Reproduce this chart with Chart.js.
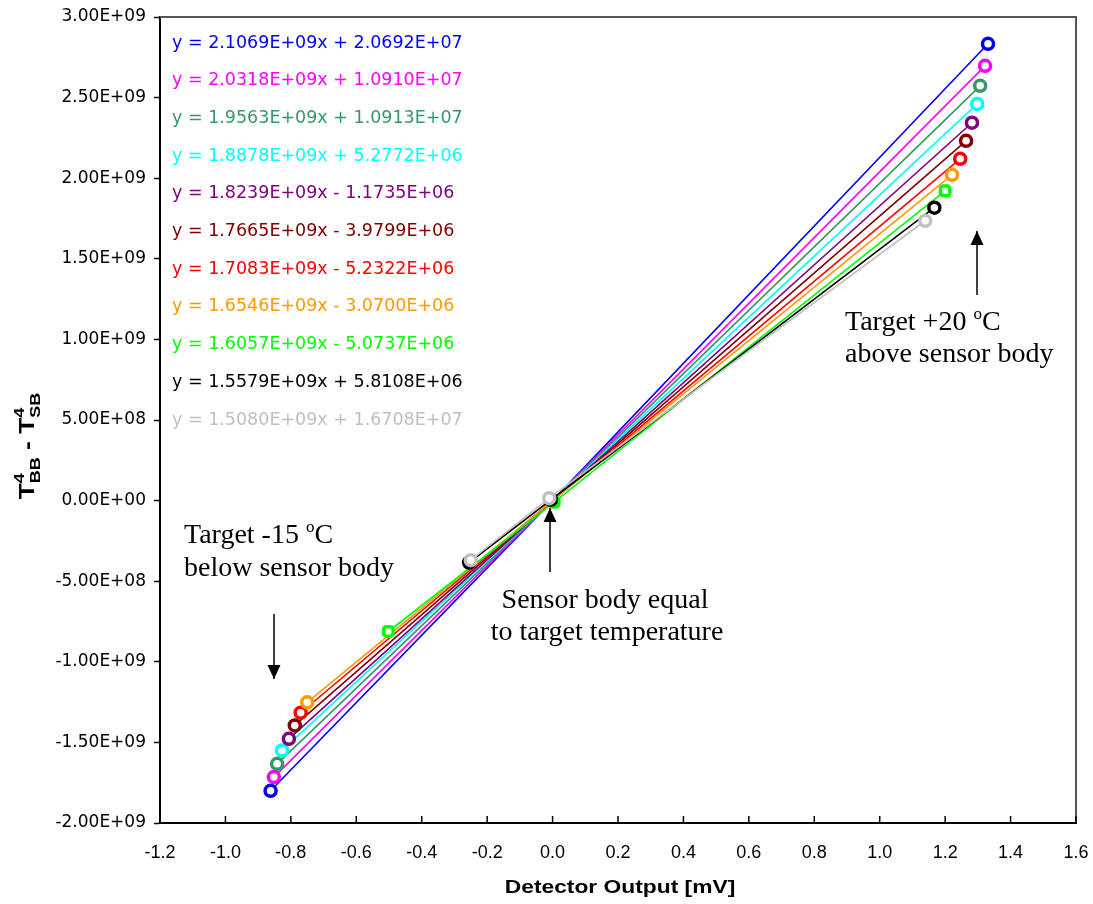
<!DOCTYPE html>
<html>
<head>
<meta charset="utf-8">
<script src="https://cdn.jsdelivr.net/npm/chart.js@4"></script>
<style>
  body { margin: 0; background: #fff; }
  #wrap { width: 1093px; height: 904px; }
</style>
</head>
<body>
<div id="wrap"><canvas id="myChart" width="1093" height="904"></canvas></div>
<script>
// datos
const colores = ["#0000FF", "#FF00FF", "#339966", "#00FFFF", "#800080", "#800000", "#FF0000", "#FF9900", "#00FF00", "#000000", "#C0C0C0"];
const ecuaciones = [
  "y = 2.1069E+09x + 2.0692E+07",
  "y = 2.0318E+09x + 1.0910E+07",
  "y = 1.9563E+09x + 1.0913E+07",
  "y = 1.8878E+09x + 5.2772E+06",
  "y = 1.8239E+09x - 1.1735E+06",
  "y = 1.7665E+09x - 3.9799E+06",
  "y = 1.7083E+09x - 5.2322E+06",
  "y = 1.6546E+09x - 3.0700E+06",
  "y = 1.6057E+09x - 5.0737E+06",
  "y = 1.5579E+09x + 5.8108E+06",
  "y = 1.5080E+09x + 1.6708E+07"
];
// punto frio (target -15 C), punto cero, punto caliente (target +20 C)
const xBajo = [-0.862, -0.852, -0.842, -0.827, -0.806, -0.788, -0.770, -0.750, -0.502, -0.255, -0.250];
const yBajo = [-1.80e9, -1.715e9, -1.633e9, -1.55e9, -1.478e9, -1.395e9, -1.316e9, -1.251e9, -0.812e9, -0.384e9, -0.370e9];
const xCero = [0, 0, 0, 0, 0, 0, 0, 0, 0.005, -0.005, -0.01];
const yCero = [0, 0, 0, 0, 0, 0, 0, 0, -0.01e9, 0.005e9, 0.015e9];
const xAlto = [1.331, 1.322, 1.307, 1.298, 1.282, 1.264, 1.246, 1.221, 1.200, 1.167, 1.139];
const yAlto = [2.834e9, 2.697e9, 2.573e9, 2.461e9, 2.344e9, 2.232e9, 2.120e9, 2.021e9, 1.922e9, 1.817e9, 1.736e9];

const xTicks = { min: -1.2, max: 1.6, step: 0.2 };
const yTicks = { min: -2e9, max: 3e9, step: 5e8 };

function formatoE(v) {
  const partes = Number(v).toExponential(2).split("e");
  const exp = Number(partes[1]);
  const signo = exp < 0 ? "-" : "+";
  return partes[0] + "E" + signo + String(Math.abs(exp)).padStart(2, "0");
}

const datasets = colores.map((color, i) => {
  return {
    label: ecuaciones[i],
    data: [
      { x: xBajo[i], y: yBajo[i] },
      { x: xCero[i], y: yCero[i] },
      { x: xAlto[i], y: yAlto[i] }
    ],
    order: colores.length - 1 - i,
    showLine: true,
    borderColor: color,
    borderWidth: 1.6,
    pointBorderColor: color,
    pointBackgroundColor: "#fff",
    pointBorderWidth: 3.5,
    pointRadius: 5.5,
    pointStyle: i === 8 ? "rectRounded" : "circle"
  };
});

// dibuja marco, ticks del eje x, ecuaciones, titulo eje y y anotaciones
const extras = {
  id: "extras",
  beforeDatasetsDraw(chart) {
    const ctx = chart.ctx;
    const a = chart.chartArea;
    ctx.save();
    ctx.strokeStyle = "#555";
    ctx.lineWidth = 2;
    ctx.beginPath();
    ctx.moveTo(a.left, a.top);
    ctx.lineTo(a.right, a.top);
    ctx.lineTo(a.right, a.bottom);
    ctx.stroke();
    // ticks hacia adentro en el eje x
    const sx = chart.scales.x;
    ctx.strokeStyle = "#000";
    ctx.lineWidth = 1.5;
    for (let v = xTicks.min; v <= xTicks.max + 1e-9; v += xTicks.step) {
      const px = sx.getPixelForValue(v);
      ctx.beginPath();
      ctx.moveTo(px, a.bottom);
      ctx.lineTo(px, a.bottom - 7);
      ctx.stroke();
    }
    ctx.restore();
  },
  afterDraw(chart) {
    const ctx = chart.ctx;
    ctx.save();
    // ecuaciones
    ctx.font = "17.5px 'DejaVu Sans'";
    ctx.textBaseline = "middle";
    ecuaciones.forEach((t, i) => {
      ctx.fillStyle = colores[i];
      ctx.fillText(t, 172, 43 + i * 37.7);
    });
    // titulo eje y
    ctx.fillStyle = "#000";
    ctx.translate(27, 446);
    ctx.rotate(-Math.PI / 2);
    ctx.scale(1.2, 1);
    const partes = [["T", 0, 22], ["BB", 6, 15], ["4", -10, 15], [" - T", 0, 22], ["SB", 6, 15], ["4", -10, 15]];
    let ancho = 0;
    partes.forEach((p) => {
      ctx.font = "bold " + p[2] + "px 'Liberation Sans'";
      if (p[1] < 0) return;
      ancho += ctx.measureText(p[0]).width;
    });
    let x = -ancho / 2;
    let ultimo = 0;
    ctx.textBaseline = "alphabetic";
    partes.forEach((p) => {
      ctx.font = "bold " + p[2] + "px 'Liberation Sans'";
      if (p[1] < 0) {
        ctx.fillText(p[0], x - ultimo, p[1] + 7);
        return;
      }
      ctx.fillText(p[0], x, p[1] + 7);
      ultimo = ctx.measureText(p[0]).width;
      x += ultimo;
    });
    ctx.restore();

    // titulo eje x
    ctx.save();
    ctx.fillStyle = "#000";
    ctx.font = "bold 19px 'Liberation Sans'";
    ctx.textBaseline = "middle";
    ctx.translate(620, 888);
    ctx.scale(1.2, 1);
    const tw = ctx.measureText("Detector Output [mV]").width;
    ctx.fillText("Detector Output [mV]", -tw / 2, 0);
    ctx.restore();

    // anotaciones
    ctx.save();
    ctx.fillStyle = "#000";
    ctx.textBaseline = "alphabetic";
    const serif = "28px 'Liberation Serif'";
    const sup = "17px 'Liberation Serif'";
    function texto(t, px, py, centro) {
      ctx.font = serif;
      const w = ctx.measureText(t).width;
      ctx.fillText(t, centro ? px - w / 2 : px, py);
    }
    function conGrado(antes, despues, px, py) {
      ctx.font = serif;
      ctx.fillText(antes, px, py);
      let w = ctx.measureText(antes).width;
      ctx.font = sup;
      ctx.fillText("o", px + w, py - 11);
      w += ctx.measureText("o").width;
      ctx.font = serif;
      ctx.fillText(despues, px + w, py);
    }
    conGrado("Target +20 ", "C", 845, 330);
    texto("above sensor body", 845, 362);
    conGrado("Target -15 ", "C", 184, 543);
    texto("below sensor body", 184, 576);
    texto("Sensor body equal", 605, 608, true);
    texto("to target temperature", 607, 640, true);

    function flecha(x1, y1, x2, y2) {
      ctx.strokeStyle = "#000";
      ctx.lineWidth = 1.5;
      ctx.beginPath();
      ctx.moveTo(x1, y1);
      ctx.lineTo(x2, y2);
      ctx.stroke();
      const dir = y2 < y1 ? -1 : 1;
      ctx.beginPath();
      ctx.moveTo(x2, y2);
      ctx.lineTo(x2 - 6.5, y2 - dir * 14);
      ctx.lineTo(x2 + 6.5, y2 - dir * 14);
      ctx.closePath();
      ctx.fill();
    }
    flecha(977, 295, 977, 231);
    flecha(274, 614, 274, 679);
    flecha(550, 572, 550, 508);
    ctx.restore();
  }
};

const config = {
  type: "scatter",
  data: { datasets },
  options: {
    responsive: false,
    animation: false,
    layout: { padding: { top: 17, right: 17, left: 0, bottom: 0 } },
    plugins: { legend: { display: false }, tooltip: { enabled: false } },
    scales: {
      x: {
        type: "linear",
        min: xTicks.min,
        max: xTicks.max,
        afterFit: (s) => { s.height = 81; s.paddingLeft = 0; s.paddingRight = 0; },
        ticks: {
          stepSize: xTicks.step,
          padding: 19,
          color: "#000",
          font: { family: "'Liberation Sans'", size: 18 },
          callback: (v) => Number(v).toFixed(1)
        },
        grid: { drawOnChartArea: false, drawTicks: false },
        border: { color: "#000", width: 2 }
      },
      y: {
        type: "linear",
        min: yTicks.min,
        max: yTicks.max,
        afterFit: (s) => { s.width = 160; s.paddingTop = 0; s.paddingBottom = 0; },
        ticks: {
          stepSize: yTicks.step,
          padding: 8,
          color: "#000",
          font: { family: "'DejaVu Sans'", size: 17 },
          callback: (v) => formatoE(v)
        },
        grid: { drawOnChartArea: false, tickLength: 6, color: "#000", tickWidth: 1.5 },
        border: { color: "#000", width: 2 }
      }
    }
  },
  plugins: [extras]
};

new Chart(document.getElementById("myChart"), config);
</script>
</body>
</html>
